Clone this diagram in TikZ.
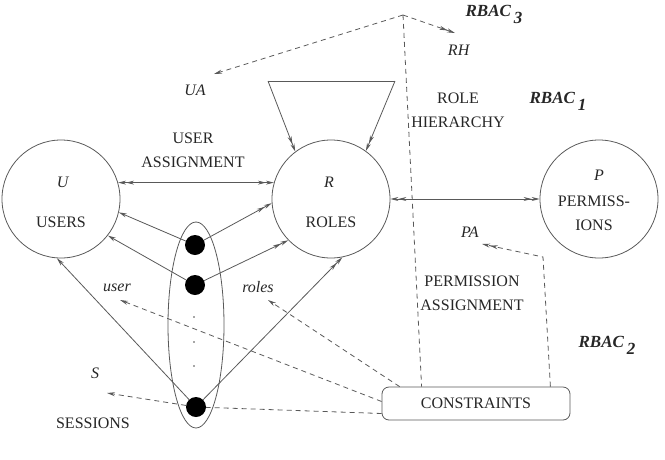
\documentclass[tikz,border=0pt]{standalone}
\usepackage{fontspec}
\setmainfont{Liberation Serif}
\usetikzlibrary{arrows.meta,shapes.geometric}
\newcommand{\rbac}[1]{{\fontsize{17}{20}\selectfont\textbf{\textit{RBAC}}\,\raisebox{-7pt}{\textbf{\textit{#1}}}}}

\begin{document}
\begin{tikzpicture}[
        x=1pt, y=-1pt,
        every node/.style = {font=\fontsize{16}{24}\selectfont, text=black!85, inner sep=0pt},
        ring/.style = {circle, draw=black!65, line width=0.8pt, minimum size=118pt},
        bullet/.style = {circle, fill=black, minimum size=20pt},
        speck/.style = {circle, fill=black!70, minimum size=1.8pt},
        link/.style = {draw=black!65, line width=0.8pt},
        one/.style = {link, -{Stealth[length=8pt,width=4pt]}},
        two/.style = {link, -{Stealth[length=8pt,width=4pt]Stealth[length=8pt,width=4pt]}},
        both/.style = {link, {Stealth[length=8pt,width=4pt]Stealth[length=8pt,width=4pt]}-{Stealth[length=8pt,width=4pt]Stealth[length=8pt,width=4pt]}},
        hint/.style = {link, dash pattern=on 5pt off 4pt}
    ]
    \useasboundingbox (0,0) rectangle (665,459);

    % the three sets
    \node[ring] (users) at (61,199) {};
    \node[ring] (roles) at (331,199) {};
    \node[ring] (perms) at (599,199) {};

    \node (ulabel) at (63,182) {\textit{U}};
    \node (utext) at (61,222) {USERS};
    \node (rlabel) at (329,182) {\textit{R}};
    \node (rtext) at (331,222) {ROLES};
    \node (plabel) at (599,175) {\textit{P}};
    \node[align=center] (ptext) at (594,213) {PERMISS-\\IONS};

    % sessions
    \node[ellipse, draw=black!65, line width=0.8pt, minimum width=56pt, minimum height=206pt] (sessions) at (196,325) {};
    \node[bullet] (s1) at (195,245) {};
    \node[bullet] (s2) at (195,285) {};
    \node[bullet] (s3) at (196,407) {};
    \node[speck] (d1) at (194,317) {};
    \node[speck] (d2) at (194,342) {};
    \node[speck] (d3) at (194,366) {};

    \node[draw=black!65, line width=0.8pt, rounded corners=7pt, minimum width=188pt, minimum height=33pt] (constraints) at (476,403.5) {CONSTRAINTS};

    % assignments
    \draw[both] (users.16) -- (roles.164);
    \draw[both] (roles.east) -- (perms.west);
    \node[align=center] (ua) at (193,150) {USER\\ASSIGNMENT};
    \node[align=center] (pa) at (472,293) {PERMISSION\\ASSIGNMENT};

    % hierarchy loop
    \coordinate (hl) at (268,81);
    \coordinate (hr) at (395,81);
    \draw[two] (hl) -- (roles.127);
    \draw[link] (hl) -- (hr);
    \draw[two] (hr) -- (roles.54);
    \node[align=center] (rh) at (458,110) {ROLE\\HIERARCHY};

    % session functions
    \draw[one] (s1) -- (users.-13);
    \draw[one] (s2) -- (users.-38);
    \draw[one] (s3) -- (users.-94);
    \draw[two] (s1) -- (roles.184);
    \draw[two] (s2) -- (roles.224);
    \draw[two] (s3) -- (roles.-79);
    \node (user) at (117,288) {\textit{user}};
    \node (rls) at (258,287) {\textit{roles}};
    \node (s) at (95,373) {\textit{S}};
    \node (sessiontext) at (93,423) {SESSIONS};

    % constraints and models
    \coordinate (apex) at (403,15);
    \coordinate (uatip) at (214,74);
    \coordinate (rhtip) at (455,33);
    \coordinate (pacorner) at (543,257);
    \coordinate (patip) at (482,244);
    \coordinate (usertip) at (120,300);
    \coordinate (rolestip) at (268,300);
    \coordinate (stip) at (107,393);
    \draw[hint, -{Stealth[length=8pt,width=4pt]}] (apex) -- (uatip);
    \draw[hint, -{Stealth[length=8pt,width=4pt]Stealth[length=8pt,width=4pt]}] (apex) -- (rhtip);
    \draw[hint] (apex) -- ([xshift=40pt]constraints.north west);
    \draw[hint, -{Stealth[length=8pt,width=4pt]Stealth[length=8pt,width=4pt]}] ([xshift=-20pt]constraints.north east) -- (pacorner) -- (patip);
    \draw[hint, -{Stealth[length=8pt,width=4pt]}] ([xshift=18pt]constraints.north west) -- (rolestip);
    \draw[hint, -{Stealth[length=8pt,width=4pt]}] ([yshift=2pt]constraints.west) -- (usertip);
    \draw[hint] ([yshift=-10pt]constraints.west) -- (s3);
    \draw[hint, -{Stealth[length=8pt,width=4pt]}] (s3) -- (stip);

    \node (uatext) at (195,90) {\textit{UA}};
    \node (rhtext) at (459,50) {\textit{RH}};
    \node (patext) at (470,232) {\textit{PA}};
    \node (rbac3) at (494,14) {\rbac{3}};
    \node (rbac1) at (558,101) {\rbac{1}};
    \node (rbac2) at (607,345) {\rbac{2}};

\end{tikzpicture}
\end{document}
